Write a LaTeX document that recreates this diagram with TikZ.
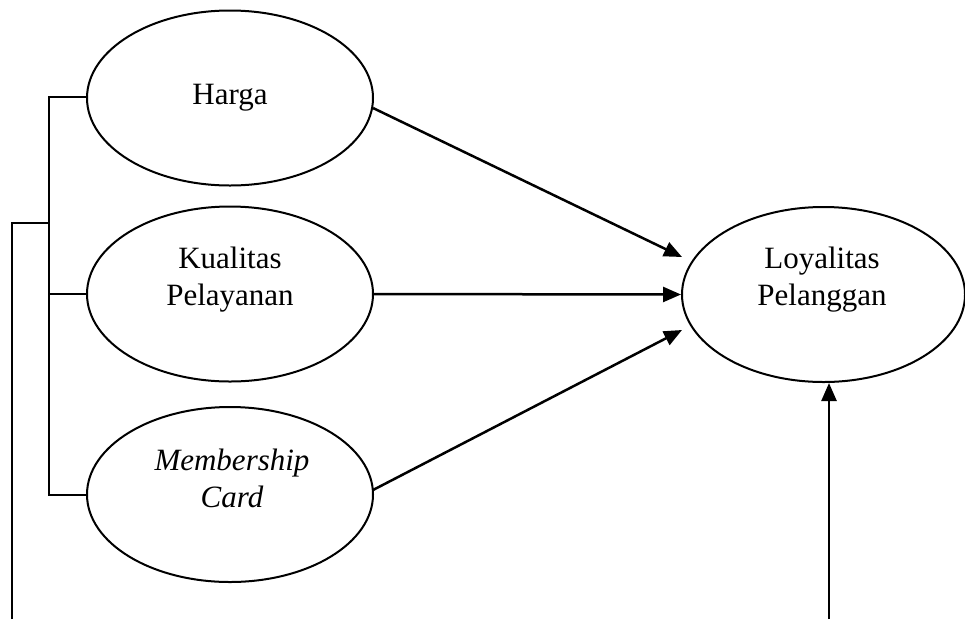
\documentclass[tikz,border=0pt]{standalone}
\usepackage{fontspec}
\setmainfont{Liberation Serif}
\usetikzlibrary{shapes.geometric,arrows.meta}
\begin{document}
\begin{tikzpicture}[x=1pt,y=-1pt,
  oval/.style={draw,ellipse,line width=2pt,inner sep=0pt,minimum width=286pt,minimum height=175pt},
  lbl/.style={align=center,font=\fontsize{31}{37}\selectfont,inner sep=0pt},
  conn/.style={line width=2pt},
  arr/.style={line width=2.5pt,-{Triangle[length=18pt,width=15pt]}}]
\useasboundingbox (0,0) rectangle (965,619);
\node[oval] (harga) at (230,98) {};
\node[oval] (kual) at (230,294) {};
\node[oval] (memb) at (230,494.5) {};
\node[oval,minimum width=283pt] (loy) at (823.5,294.5) {};
\node[lbl] (tharga) at (230,98) {Harga};
\node[lbl] (tkual) at (230,280) {Kualitas\\Pelayanan};
\node[lbl,font=\fontsize{31}{37}\selectfont\itshape] (tmemb) at (232,478) {Membership\\Card};
\node[lbl] (tloy) at (822,280) {Loyalitas\\Pelanggan};
% bracket
\coordinate (bh) at (49,97);
\coordinate (bm) at (49,495);
\coordinate (bj) at (49,223);
\coordinate (ob) at (12,619);
\coordinate (rb) at (829,619);
\draw[conn] (87,97) -- (bh) -- (bm) -- (87,495);
\draw[conn] (kual.west) -- (49,294);
\draw[conn] (ob) |- (bj);
% arrows
\coordinate (s1) at (373,108);
\coordinate (e1) at (682,257);
\coordinate (s3) at (373,490);
\coordinate (e3) at (682,330);
\draw[arr] (s1) -- (e1);
\draw[arr] (kual.east) -- (loy.west);
\draw[arr] (s3) -- (e3);
\draw[arr] (rb) -- (loy.south -| rb);
\end{tikzpicture}
\end{document}
